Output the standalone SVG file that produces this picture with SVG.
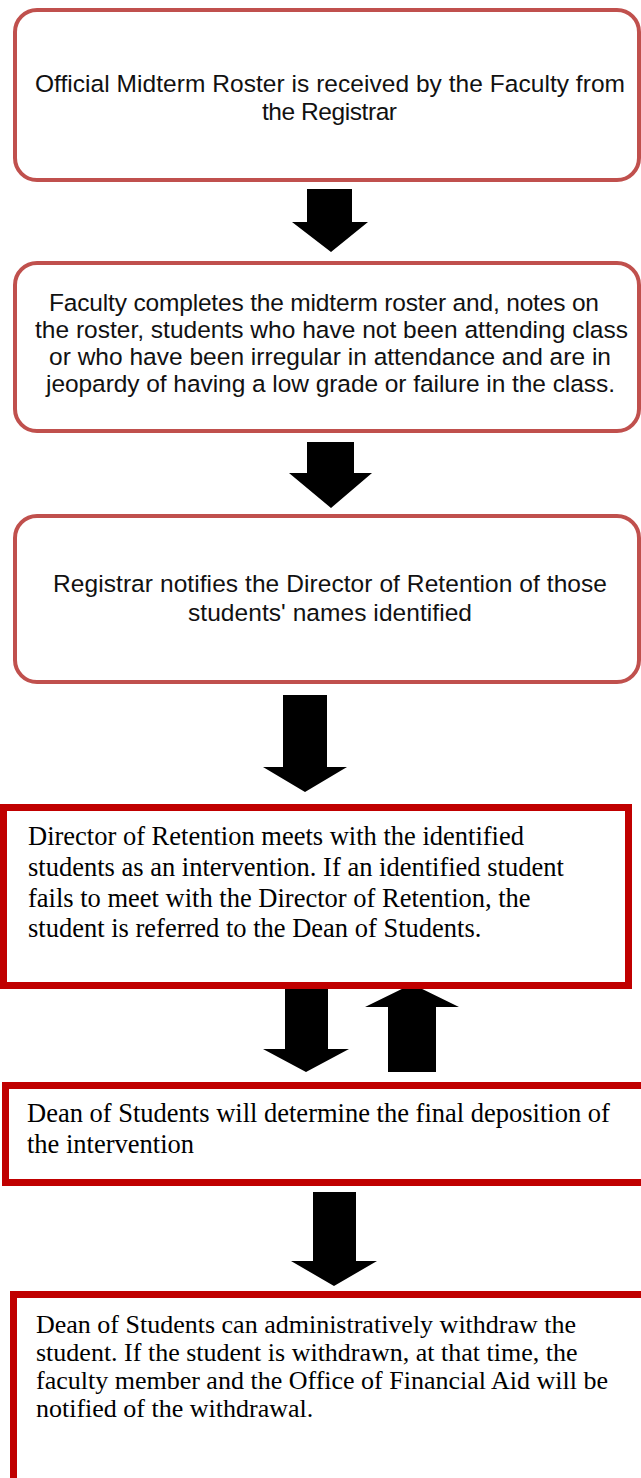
<svg xmlns="http://www.w3.org/2000/svg" width="641" height="1478" viewBox="0 0 641 1478">
<style>
.rbox{fill:#ffffff;stroke:#c0504d;stroke-width:4}
.sbox{fill:#ffffff;stroke:#c00000;stroke-width:7}
.sans{font-family:"Liberation Sans",Arial,sans-serif;font-size:24.5px;fill:#111111}
.serif{font-family:"Liberation Serif","Times New Roman",serif;font-size:26.5px;fill:#000000}
.serif6{font-family:"Liberation Serif","Times New Roman",serif;font-size:26px;fill:#000000}
.arrow{fill:#000000}
</style>
<rect width="641" height="1478" fill="#ffffff"/>
<g id="connectors">
<polygon class="arrow" points="307,189 352,189 352,222 368,222 331,252 292,222 307,222"/>
<polygon class="arrow" points="307,442 354,442 354,473 372,473 331,508 289,473 307,473"/>
<polygon class="arrow" points="283,695 327,695 327,767 347,767 305,792 263,767 283,767"/>
<polygon class="arrow" points="285,984 328,984 328,1049 349,1049 306,1072 263,1049 285,1049"/>
<polygon class="arrow" points="412,984 459,1007 436,1007 436,1072 388,1072 388,1007 365,1007"/>
<polygon class="arrow" points="313,1192 356,1192 356,1261 377,1261 334,1286 291,1261 313,1261"/>
</g>
<g id="node1">
<rect class="rbox" x="15" y="10" width="624" height="170" rx="22" ry="22"/>
<text class="sans" x="35" y="92" textLength="590">Official Midterm Roster is received by the Faculty from</text>
<text class="sans" x="262" y="120" textLength="135">the Registrar</text>
</g>
<g id="node2">
<rect class="rbox" x="15" y="263" width="624" height="168" rx="22" ry="22"/>
<text class="sans" x="49" y="311" textLength="550">Faculty completes the midterm roster and, notes on</text>
<text class="sans" x="35" y="338" textLength="593">the roster, students who have not been attending class</text>
<text class="sans" x="49" y="365" textLength="562">or who have been irregular in attendance and are in</text>
<text class="sans" x="46" y="392" textLength="569">jeopardy of having a low grade or failure in the class.</text>
</g>
<g id="node3">
<rect class="rbox" x="15" y="516" width="624" height="166" rx="22" ry="22"/>
<text class="sans" x="53" y="592" textLength="554">Registrar notifies the Director of Retention of those</text>
<text class="sans" x="188" y="621" textLength="284">students' names identified</text>
</g>
<g id="node4">
<rect class="sbox" x="3.5" y="807.5" width="625" height="178"/>
<text class="serif" x="28" y="845">Director of Retention meets with the identified</text>
<text class="serif" x="28" y="876">students as an intervention. If an identified student</text>
<text class="serif" x="28" y="907">fails to meet with the Director of Retention, the</text>
<text class="serif" x="28" y="937">student is referred to the Dean of Students.</text>
</g>
<g id="node5">
<rect class="sbox" x="5.5" y="1085.5" width="660" height="97"/>
<text class="serif" x="27" y="1122">Dean of Students will determine the final deposition of</text>
<text class="serif" x="27" y="1153">the intervention</text>
</g>
<g id="node6">
<rect class="sbox" x="13.5" y="1294.5" width="700" height="300"/>
<text class="serif6" x="36" y="1333">Dean of Students can administratively withdraw the</text>
<text class="serif6" x="36" y="1361">student. If the student is withdrawn, at that time, the</text>
<text class="serif6" x="36" y="1389">faculty member and the Office of Financial Aid will be</text>
<text class="serif6" x="36" y="1417">notified of the withdrawal.</text>
</g>
</svg>
